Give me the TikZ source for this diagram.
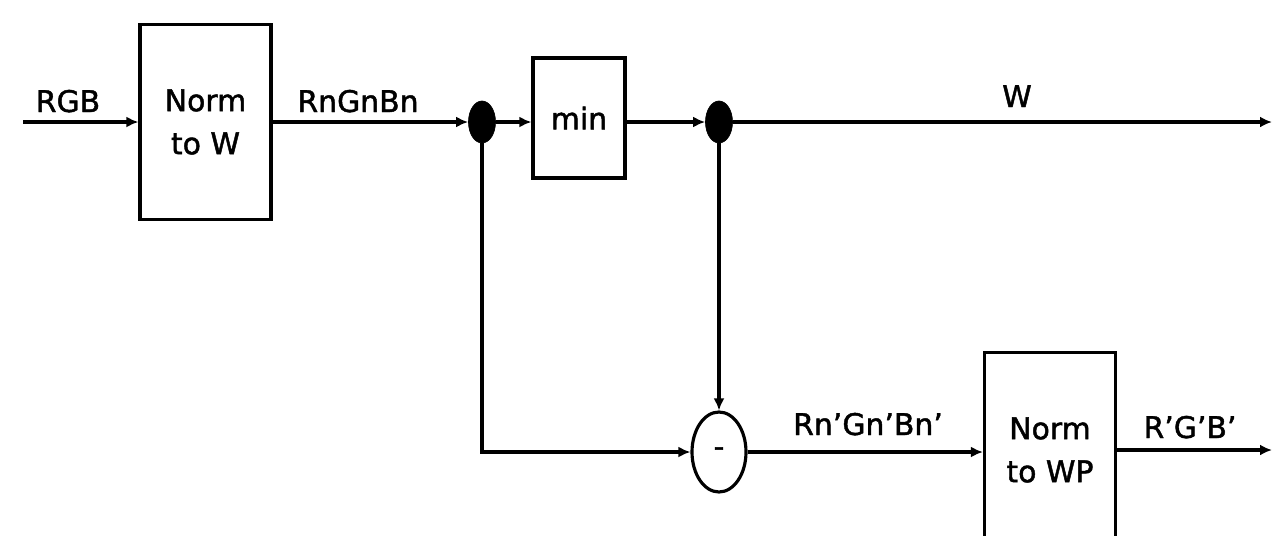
\documentclass[tikz,border=0pt]{standalone}
\usepackage{fontspec}
\setmainfont{DejaVu Sans}
\newfontfamily\diagfam{DejaVu Sans}[FakeBold=1.5]
\usetikzlibrary{arrows.meta,positioning,shapes.geometric}
\newcommand\diagfont{\diagfam\fontsize{17}{24.5}\selectfont}
\tikzset{
  block/.style  ={draw,line width=1.8pt,align=center,minimum width=2.62cm,minimum height=3.9cm,font=\diagfont},
  minbox/.style ={draw,line width=1.8pt,minimum width=1.84cm,minimum height=2.4cm,font=\diagfont},
  joint/.style  ={draw,fill=black,ellipse,inner sep=0pt,minimum width=0.54cm,minimum height=0.84cm},
  diff/.style   ={draw,line width=1.8pt,ellipse,inner sep=0pt,minimum width=1.08cm,minimum height=1.6cm,font=\diagfont},
  sig/.style    ={anchor=base,inner sep=0pt,font=\diagfont},
  arrow/.style  ={-{Latex[length=2.4mm,width=2.2mm]},line width=1.8pt}
}
\begin{document}
\begin{tikzpicture}[x=0.02cm,y=-0.02cm]
    \useasboundingbox (0,0) rectangle (1285,535);
    \node[block]  (normw)  at (205.5,122) {Norm\\to W};
    \node[joint]  (dot1)   at (482,122) {};
    \node[minbox] (min)    at (579,118) {min};
    \node[joint]  (dot2)   at (719,122) {};
    \node[diff]   (sub)    at (719,452) {-};
    \node[block]  (normwp) at (1050,450) {Norm\\to WP};
    \coordinate (in)   at (23,122);
    \coordinate (wout) at (1272,122);
    \coordinate (out)  at (1272,450);
    \node[sig] (lrgb)  at (68,112)   {RGB};
    \node[sig] (ln)    at (358,112)  {RnGnBn};
    \node[sig] (lw)    at (1017,107) {W};
    \node[sig] (lnp)   at (868,435)  {Rn’Gn’Bn’};
    \node[sig] (lout)  at (1190,438) {R’G’B’};
    \draw[arrow] (in)          -- (normw.west);
    \draw[arrow] (normw.east)  -- (dot1);
    \draw[arrow] (dot1)        -- (dot1 -| min.west);
    \draw[arrow] (dot1 -| min.east) -- (dot2);
    \draw[arrow] (dot2)        -- (wout);
    \draw[arrow] (dot1.south)  |- (sub.west);
    \draw[arrow] (dot2.south)  -- (sub.north);
    \draw[arrow] (sub.east)    -- (sub.east -| normwp.west);
    \draw[arrow] (normwp.east) -- (out);
  \end{tikzpicture}
\end{document}
